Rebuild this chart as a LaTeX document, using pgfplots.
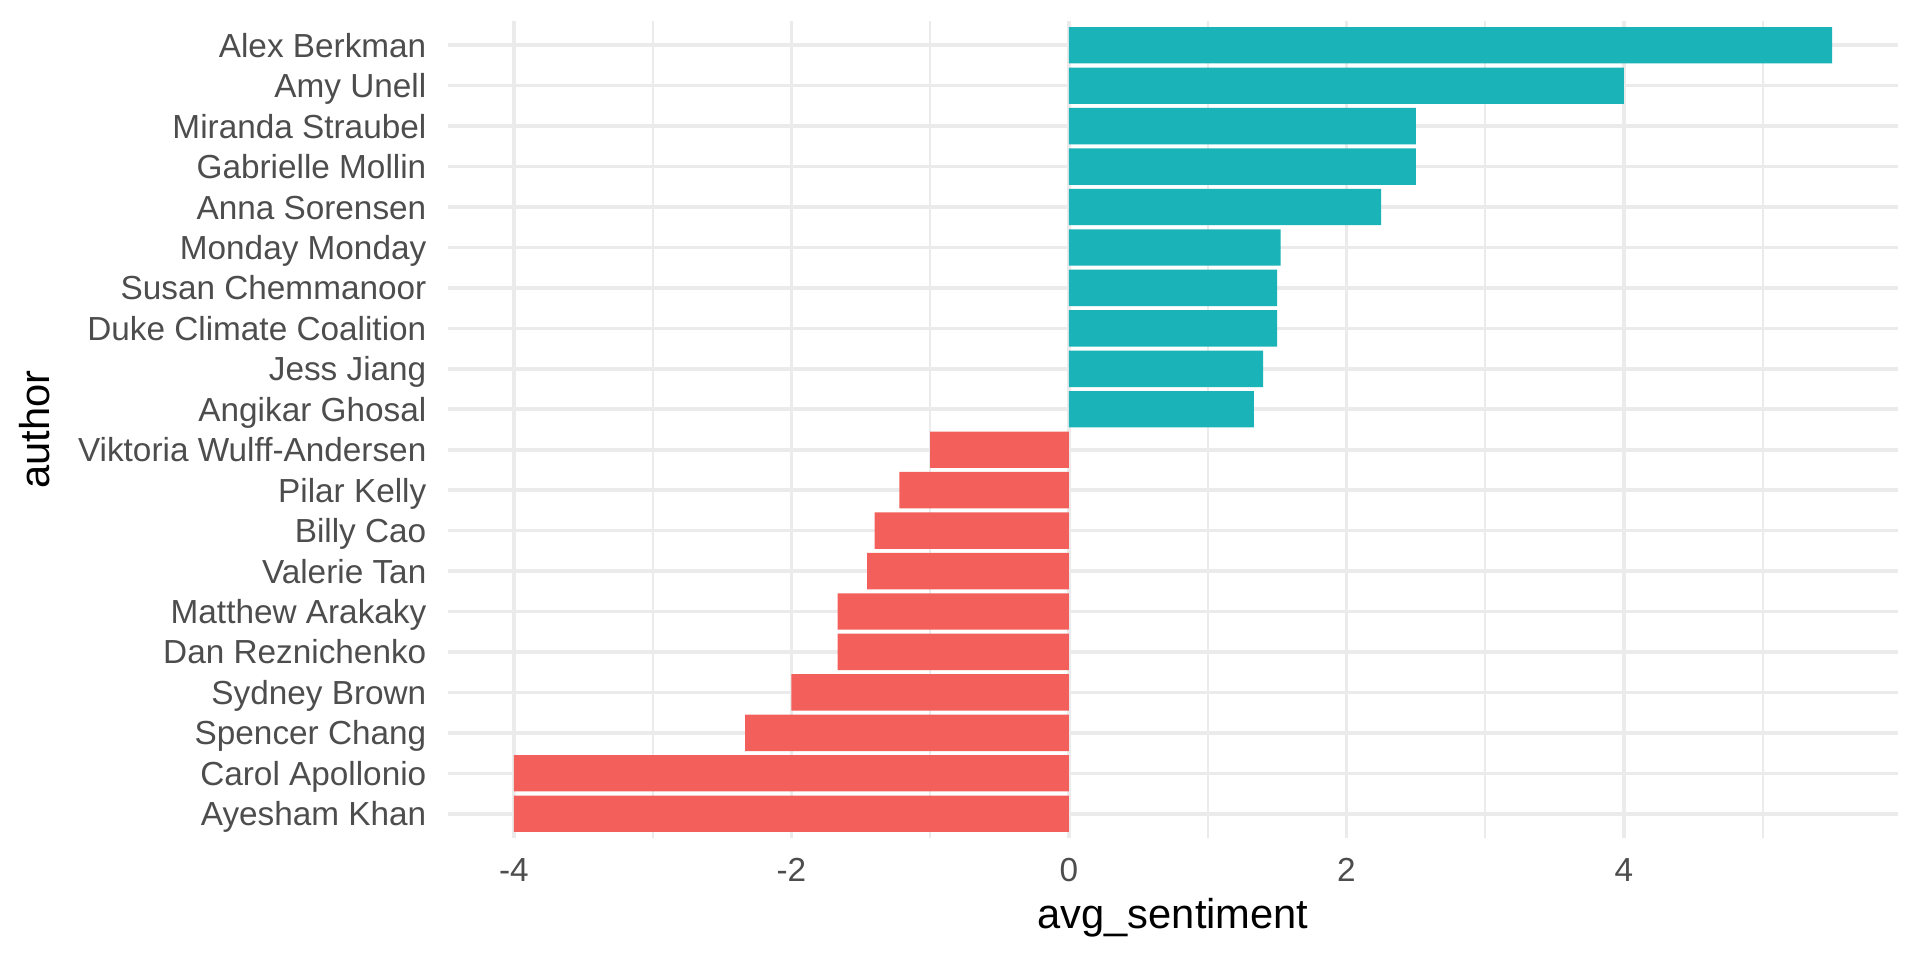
\documentclass[border=0pt]{standalone}
\usepackage{pgfplots}
\pgfplotsset{compat=1.18}
\usepackage{fontspec}
\setmainfont{Liberation Sans}
\definecolor{tealbar}{HTML}{1AB3B7}
\definecolor{redbar}{HTML}{F35F5B}
\definecolor{grid92}{HTML}{EBEBEB}
\definecolor{grey30}{HTML}{4D4D4D}
\begin{document}
\begin{tikzpicture}
\useasboundingbox (0,0) rectangle (576bp,288bp);
\begin{axis}[
  at={(134.4bp,36.6bp)}, anchor=south west,
  scale only axis, width=435bp, height=245.1bp,
  xmin=-4.475, xmax=5.975, ymin=0.4, ymax=20.6,
  xtick={-4,-2,0,2,4}, xticklabels={-4,-2,0,2,4},
  minor xtick={-3,-1,1,3,5},
  ytick={1,...,20},
  yticklabels={Ayesham Khan,Carol Apollonio,Spencer Chang,Sydney Brown,Dan Reznichenko,Matthew Arakaky,Valerie Tan,Billy Cao,Pilar Kelly,Viktoria Wulff-Andersen,Angikar Ghosal,Jess Jiang,Duke Climate Coalition,Susan Chemmanoor,Monday Monday,Anna Sorensen,Gabrielle Mollin,Miranda Straubel,Amy Unell,Alex Berkman},
  xmajorgrids, xminorgrids, ymajorgrids,
  major grid style={grid92, line width=1.07bp},
  minor grid style={grid92, line width=0.53bp},
  axis line style={draw=none},
  major tick length=0pt, minor tick length=0pt,
  tick style={draw=none},
  tick label style={font=\fontsize{10bp}{12bp}\selectfont, text=grey30, inner sep=0pt},
  xticklabel style={anchor=base, yshift=-13.1bp},
  yticklabel style={anchor=base east, xshift=-6.3bp, yshift=-3.6bp},
  xlabel={avg\_sentiment},
  ylabel={author},
  every axis x label/.style={at={(axis description cs:0.5,-0.1106)}, anchor=base, inner sep=0pt, text=black, font=\fontsize{12.5bp}{15bp}\selectfont},
  every axis y label/.style={at={(axis description cs:-0.2745,0.5)}, rotate=90, anchor=base, inner sep=0pt, text=black, font=\fontsize{12.5bp}{15bp}\selectfont},
]
\addplot[xbar, bar width=0.9, bar shift=0pt, fill=redbar, draw=none] coordinates {
  (-4,1) (-4,2) (-2.333,3) (-2,4) (-1.667,5) (-1.667,6) (-1.455,7) (-1.4,8) (-1.222,9) (-1,10)};
\addplot[xbar, bar width=0.9, bar shift=0pt, fill=tealbar, draw=none] coordinates {
  (1.333,11) (1.4,12) (1.5,13) (1.5,14) (1.525,15) (2.25,16) (2.5,17) (2.5,18) (4,19) (5.5,20)};
\end{axis}
\end{tikzpicture}
\end{document}
